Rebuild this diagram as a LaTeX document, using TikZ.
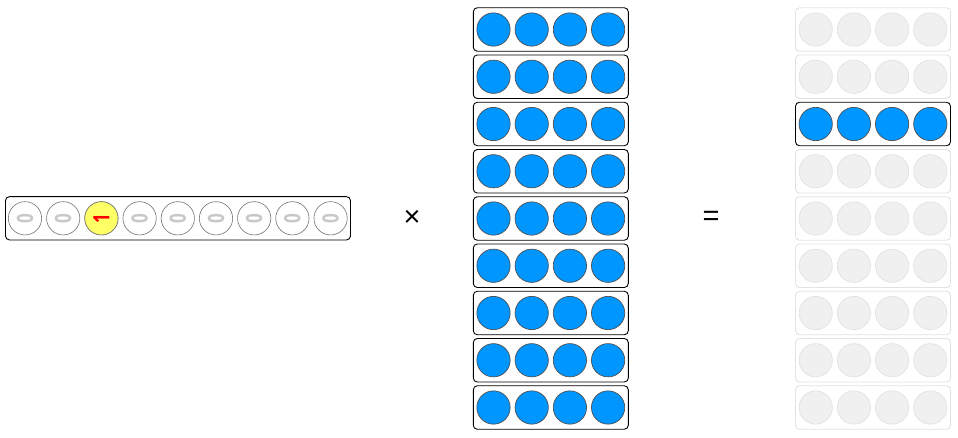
\documentclass[tikz,border=0pt]{standalone}
\usepackage{fontspec}
\usepackage{graphicx}
\setmainfont{Liberation Sans}
\newfontfamily\bitfont{Open Sans}
\usetikzlibrary{positioning}
\definecolor{ballblue}{HTML}{0096FF}
\definecolor{ballrim}{HTML}{505050}
\definecolor{ghostfill}{HTML}{F0F0F0}
\definecolor{ghostrim}{HTML}{E2E2E2}
\definecolor{digitgray}{HTML}{C8C8C8}
\definecolor{onefill}{HTML}{FFFF66}
\newcommand{\bitlabel}[1]{\rotatebox{90}{\scalebox{1}[1.32]{#1}}}

\begin{document}
\begin{tikzpicture}[x=1pt,y=-1pt]

    \tikzstyle{tray}=[draw, rectangle, rounded corners=4pt, line width=0.9pt, minimum width=155pt, minimum height=43.5pt, inner sep=0pt]
    \tikzstyle{ghosttray}=[tray, draw=ghostrim]
    \tikzstyle{ball}=[circle, draw=ballrim, fill=ballblue, line width=0.7pt, minimum size=33.3pt, inner sep=0pt]
    \tikzstyle{ghostball}=[ball, draw=ghostrim, fill=ghostfill]
    \tikzstyle{bit}=[circle, draw=black!55, fill=white, line width=0.6pt, minimum size=33.3pt, inner sep=0pt]
    \tikzstyle{digit}=[font=\bitfont\bfseries\fontsize{17}{17}\selectfont, inner sep=0pt]
    \tikzstyle{op}=[font=\fontsize{29}{29}\selectfont]

    \useasboundingbox (0,0) rectangle (958,437);

    % one-hot selector
    \node (selector) at (178,218.3)[tray, minimum width=345pt, minimum height=43.3pt]{};
    \foreach \i in {0,...,8} {
      \node (bit\i) at (25+38.2*\i,218.3)[bit]{};
    }
    \node at (bit2) [bit, fill=onefill]{};
    \foreach \i in {0,1,3,4,5,6,7,8} {
      \node at (bit\i)[digit, text=digitgray]{\bitlabel{0}};
    }
    \node at (bit2)[digit, text=red]{\bitlabel{1}};

    \node (times) at (412,218.3)[op]{×};

    % table of rows
    \foreach \r in {0,...,8} {
      \node (row\r) at (550.8,29.5+47.25*\r)[tray]{};
      \foreach \c in {0,...,3} {
        \node (cell\r\c) at ([xshift=-57.3pt+38.2*\c pt]row\r.center)[ball]{};
      }
    }

    \node (equals) at (711,218.3)[op]{=};

    % selected row
    \foreach \r in {0,...,8} {
      \ifnum\r=2
        \node (out\r) at (873,29.5+47.25*\r)[tray]{};
        \foreach \c in {0,...,3} {
          \node (outcell\r\c) at ([xshift=-57.3pt+38.2*\c pt]out\r.center)[ball]{};
        }
      \else
        \node (out\r) at (873,29.5+47.25*\r)[ghosttray]{};
        \foreach \c in {0,...,3} {
          \node (outcell\r\c) at ([xshift=-57.3pt+38.2*\c pt]out\r.center)[ghostball]{};
        }
      \fi
    }

\end{tikzpicture}
\end{document}
